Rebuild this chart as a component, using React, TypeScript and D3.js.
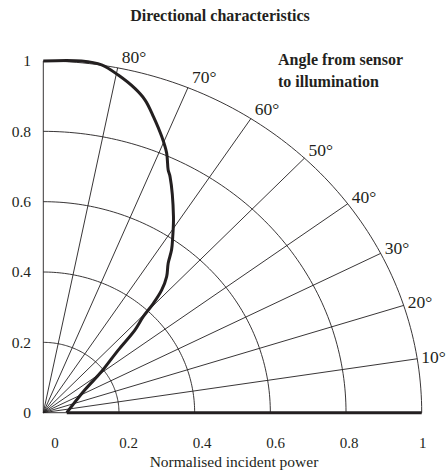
import * as d3 from 'd3'

// relative sensitivity curve (x = horizontal, y = vertical)
const curveX = [0, 0.101, 0.154, 0.198, 0.242, 0.269, 0.291, 0.313, 0.326, 0.330, 0.335, 0.344, 0.342, 0.339, 0.330, 0.326, 0.313, 0.291, 0.264, 0.242, 0.198, 0.154, 0.110, 0.062]
const curveY = [1.0, 1.0, 0.989, 0.960, 0.922, 0.889, 0.842, 0.785, 0.738, 0.690, 0.671, 0.557, 0.500, 0.463, 0.425, 0.387, 0.349, 0.311, 0.273, 0.235, 0.178, 0.117, 0.065, 0]

const ringRadii = [0.2, 0.4, 0.6, 0.8, 1.0]
const angleTicks = [10, 20, 30, 40, 50, 60, 70, 80]
const xTicks = [0, 0.2, 0.4, 0.6, 0.8, 1]
const yTicks = [0, 0.2, 0.4, 0.6, 0.8, 1]

const W = 446
const H = 471
const ink = '#231f20'
const serif = '"Liberation Serif", "Times New Roman", serif'

// the radial lines in the original are drawn a little flatter than true angle
const angleSquash = 0.88

export default function App() {
  const x = d3.scaleLinear().domain([0, 1]).range([43.3, 421.7])
  const y = d3.scaleLinear().domain([0, 1]).range([412.7, 61])
  // tick labels in the original sit on their own slightly shifted scale
  const xLab = d3.scaleLinear().domain([0, 1]).range([55, 422.7])

  const toRad = (deg: number) => Math.atan(angleSquash * Math.tan((deg * Math.PI) / 180))

  const arc = (r: number) => {
    const pts = d3.range(0, 91, 1).map((a) => {
      const t = (a * Math.PI) / 180
      return [x(r * Math.cos(t)), y(r * Math.sin(t))] as [number, number]
    })
    return d3.line()(pts) as string
  }

  const pts = curveX.map((v, i) => [x(v), y(curveY[i])] as [number, number])
  const curvePath = d3.line().curve(d3.curveCatmullRom.alpha(0.5))(pts) as string

  return (
    <svg width={W} height={H} style={{ position: 'absolute', left: 0, top: 0, background: '#fff' }}>
      <text x={220} y={21} textAnchor="middle" fontFamily={serif} fontWeight="bold" fontSize={16} fill={ink}>
        Directional characteristics
      </text>
      <text x={278} y={65} fontFamily={serif} fontWeight="bold" fontSize={16} fill={ink}>
        Angle from sensor
      </text>
      <text x={278} y={87} fontFamily={serif} fontWeight="bold" fontSize={16} fill={ink}>
        to illumination
      </text>

      <g fill="none" stroke={ink} strokeWidth={0.9}>
        {ringRadii.map((r) => (
          <path key={r} d={arc(r)} />
        ))}
        {angleTicks.map((a) => {
          const t = toRad(a)
          return <line key={a} x1={x(0)} y1={y(0)} x2={x(Math.cos(t))} y2={y(Math.sin(t))} />
        })}
        <line x1={x(0)} y1={y(0)} x2={x(0)} y2={y(1)} />
        <line x1={x(0)} y1={y(0)} x2={x(1)} y2={y(0)} />
      </g>

      <g fill="none" stroke={ink} strokeWidth={3} strokeLinejoin="round">
        <path d={curvePath} />
        <line x1={x(curveX[curveX.length - 1])} y1={y(0)} x2={x(1)} y2={y(0)} />
      </g>

      {angleTicks.map((a) => {
        const t = toRad(a)
        const px = x(Math.cos(t)) + 4
        const py = y(Math.sin(t)) - 11 * Math.sin((a * Math.PI) / 180)
        return (
          <text key={a} x={px} y={py} dy="0.35em" fontFamily={serif} fontSize={17.5} fill={ink}>
            {a}°
          </text>
        )
      })}

      {yTicks.map((v) => (
        <text key={v} x={31} y={y(v)} dy="0.35em" textAnchor="end" fontFamily={serif} fontSize={15.5} fill={ink}>
          {v}
        </text>
      ))}
      {xTicks.map((v) => (
        <text key={v} x={xLab(v)} y={448} textAnchor="middle" fontFamily={serif} fontSize={15} fill={ink}>
          {v}
        </text>
      ))}
      <text x={234} y={467} textAnchor="middle" fontFamily={serif} fontSize={15.5} fill={ink}>
        Normalised incident power
      </text>
    </svg>
  )
}
